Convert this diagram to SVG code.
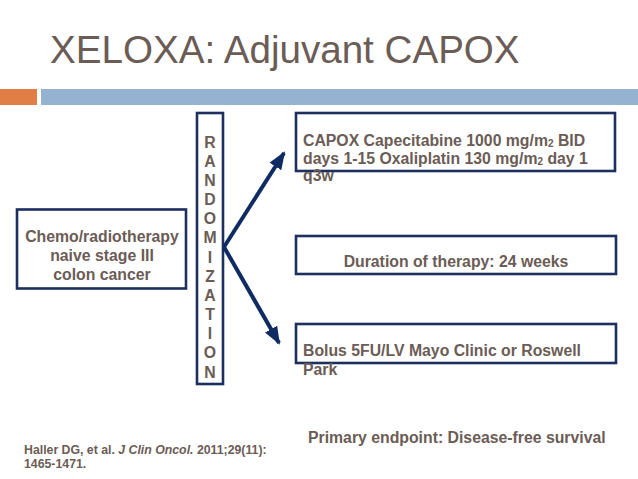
<svg xmlns="http://www.w3.org/2000/svg" width="638" height="479" viewBox="0 0 638 479">
<defs>
<style>
.t{font-family:"Liberation Sans",Arial,sans-serif;fill:#6b5c56;font-weight:bold;font-size:15.8px}
.box{fill:none;stroke:#1c2f5e;stroke-width:2.6}
.arr{stroke:#0f2b63;stroke-width:4;fill:none}
</style>
<marker id="ah" markerUnits="userSpaceOnUse" markerWidth="20" markerHeight="20" viewBox="0 0 20 20" refX="16" refY="10" orient="auto">
<path d="M0,3 L18,10 L0,17 Z" fill="#0f2b63"/>
</marker>
</defs>
<rect width="638" height="479" fill="#ffffff"/>
<text x="50" y="63" style="font-family:'Liberation Sans',Arial,sans-serif;font-size:38.6px;fill:#6b5c56">XELOXA: Adjuvant CAPOX</text>
<rect x="0" y="89" width="37" height="16" fill="#e07e46"/>
<rect x="41" y="89" width="597" height="16" fill="#95b3d0"/>

<g id="population">
<rect class="box" x="17" y="209.5" width="169" height="79"/>
<text class="t" text-anchor="middle" x="102" y="241.5">Chemo/radiotherapy</text>
<text class="t" text-anchor="middle" x="102" y="261">naive stage III</text>
<text class="t" text-anchor="middle" x="102" y="280">colon cancer</text>
</g>

<g id="randomization">
<rect class="box" x="197" y="113" width="26" height="271"/>
<g class="t" text-anchor="middle">
<text x="210" y="147.5">R</text>
<text x="210" y="166.5">A</text>
<text x="210" y="185.5">N</text>
<text x="210" y="205">D</text>
<text x="210" y="224">O</text>
<text x="210" y="243">M</text>
<text x="210" y="262.5">I</text>
<text x="210" y="281.5">Z</text>
<text x="210" y="300.5">A</text>
<text x="210" y="320">T</text>
<text x="210" y="339">I</text>
<text x="210" y="358">O</text>
<text x="210" y="377.5">N</text>
</g>
</g>

<g id="capox">
<rect class="box" x="296" y="113" width="319" height="58"/>
<text class="t" x="303" y="146">CAPOX Capecitabine 1000 mg/m<tspan font-size="10" dy="1">2</tspan><tspan dy="-1"> BID</tspan></text>
<text class="t" x="303" y="163.5">days 1-15 Oxaliplatin 130 mg/m<tspan font-size="10" dy="1">2</tspan><tspan dy="-1"> day 1</tspan></text>
<text class="t" x="303" y="181">q3w</text>
</g>

<g id="duration">
<rect class="box" x="296" y="236" width="320" height="38"/>
<text class="t" text-anchor="middle" x="456" y="267">Duration of therapy: 24 weeks</text>
</g>

<g id="bolus">
<rect class="box" x="296" y="324" width="320" height="39"/>
<text class="t" x="303" y="355.5">Bolus 5FU/LV Mayo Clinic or Roswell</text>
<text class="t" x="303" y="375">Park</text>
</g>

<g id="connectors">
<line class="arr" x1="224" y1="247" x2="284" y2="153" marker-end="url(#ah)"/>
<line class="arr" x1="224" y1="247" x2="279" y2="343" marker-end="url(#ah)"/>
</g>

<text class="t" x="308" y="443">Primary endpoint: Disease-free survival</text>
<text class="t" x="24" y="454" style="font-size:12.3px">Haller DG, et al. <tspan font-style="italic">J Clin Oncol.</tspan> 2011;29(11):</text>
<text class="t" x="24" y="468" style="font-size:12.3px">1465-1471.</text>
</svg>
